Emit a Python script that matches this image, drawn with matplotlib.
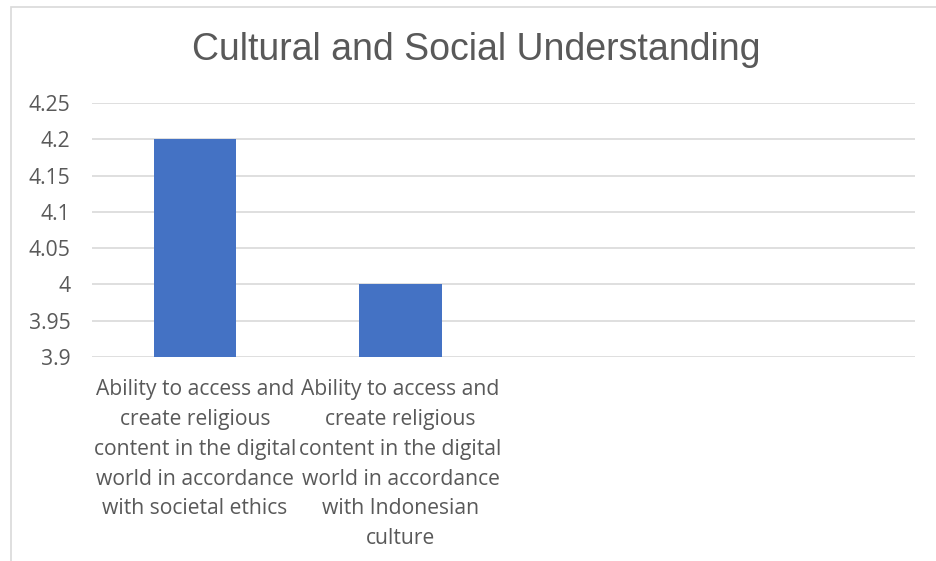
import numpy as np
import matplotlib.pyplot as plt
from matplotlib.patches import Rectangle

title = 'Cultural and Social Understanding'
categories = ['Ability to access and\ncreate religious\ncontent in the digital\nworld in accordance\nwith societal ethics',
              'Ability to access and\ncreate religious\ncontent in the digital\nworld in accordance\nwith Indonesian\nculture',
              '', '']
values = [4.2, 4.0, np.nan, np.nan]
yticks = [3.9, 3.95, 4.0, 4.05, 4.1, 4.15, 4.2, 4.25]
ytick_labels = ['3.9', '3.95', '4', '4.05', '4.1', '4.15', '4.2', '4.25']

txt = '#595959'
fig = plt.figure(figsize=(9.36, 5.61), dpi=100)
ax = fig.add_axes([92/936, 1-357/561, (915-92)/936, (357-103)/561])

x = np.arange(len(categories))
ax.bar(x, [v - 3.9 for v in values], bottom=3.9, width=0.4, color='#4472C4', zorder=3)
ax.set_xlim(-0.5, 3.5)
ax.set_ylim(3.9, 4.25)
ax.set_yticks(yticks)
ax.set_yticklabels(ytick_labels, fontsize=15.2, color=txt, family='Open Sans')
ax.set_xticks(x)
ax.set_xticklabels(categories, fontsize=15.2, color=txt, family='Open Sans', linespacing=1.55, va='top')
ax.tick_params(axis='y', length=0, pad=15.5)
ax.tick_params(axis='x', length=0, pad=16)
ax.grid(axis='y', color='#D9D9D9', linewidth=1.2, zorder=0)
for s in ax.spines.values():
    s.set_visible(False)

fig.text(476/936, 1-50/561, title, ha='center', va='center', fontsize=27, color=txt,
         family='Liberation Sans')
# chart area border (cropped at right and bottom)
fig.patches.append(Rectangle((11/936, -0.1), 1.2, 1 - 7/561 + 0.1, transform=fig.transFigure,
                             fill=False, edgecolor='#D9D9D9', linewidth=1.2))

fig.savefig('out.png', dpi=100)
